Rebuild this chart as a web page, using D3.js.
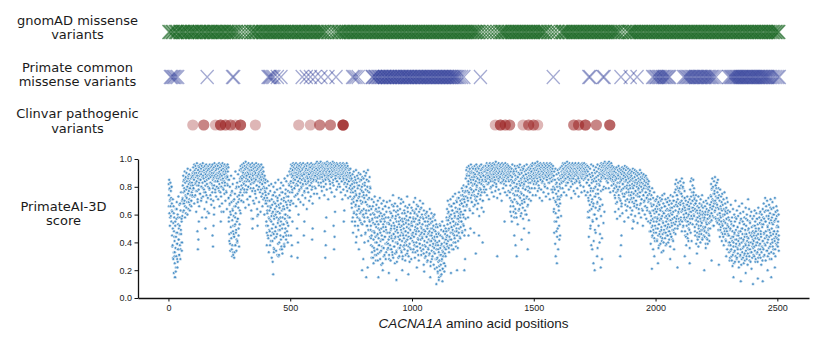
<!DOCTYPE html>
<html>
<head>
<meta charset="utf-8">
<script src="https://cdn.jsdelivr.net/npm/d3@7"></script>
<style>
  body { margin: 0; background: #fff; }
  svg { display: block; }
</style>
</head>
<body>
<svg id="chart" width="830" height="342"></svg>
<script>
// ---- data ----
const trackLabels = [
  ["gnomAD missense", "variants"],
  ["Primate common", "missense variants"],
  ["Clinvar pathogenic", "variants"]
];
const scoreLabel = ["PrimateAI-3D", "score"];
const geneName = "CACNA1A";
const xTitleRest = " amino acid positions";
const xTicks = [0, 500, 1000, 1500, 2000, 2500];
const yTicks = [0, 0.2, 0.4, 0.6, 0.8, 1.0];

// residue positions carrying gnomAD missense variants
const gnomadPositions = [
  2,7,15,19,28,33,37,46,51,58,62,69,77,80,88,94,99,106,110,117,125,128,136,141,146,154,159,165,172,175,183,189,194,201,207,212,219,224,229,237,243,247,255,260,266,273,279,
  288,301,314,327,
  339,343,351,356,360,368,374,379,386,391,397,404,409,415,420,427,432,438,445,449,456,461,467,474,478,485,490,496,503,508,515,519,526,533,537,544,549,555,562,566,573,579,584,591,596,602,609,613,620,626,631,638,643,
  655,668,681,
  691,698,702,710,716,721,728,733,739,746,750,757,763,768,775,779,786,792,797,804,809,815,822,826,833,839,844,851,855,862,868,873,880,884,891,897,902,909,913,920,926,931,938,942,949,955,960,967,971,978,984,989,996,1000,1007,1013,1018,1025,1029,1036,1042,1047,1054,1058,1065,1071,1076,1083,1087,1094,1100,1105,1112,1116,1123,1129,1134,1141,1145,1152,1158,1163,1170,1174,1181,1187,1192,1199,1203,1210,1216,1221,1228,1232,1239,1245,1250,1257,1261,1268,1274,
  1285,1298,1311,1324,1337,1350,
  1362,1368,1373,1380,1384,1391,1397,1402,1409,1413,1420,1426,1431,1438,1442,1449,1455,1460,1467,1471,1478,1484,1489,1496,1500,1507,1513,1518,1525,1529,1536,1542,1547,
  1559,1571,1584,1597,
  1612,1618,1623,1630,1634,1641,1647,1652,1659,1663,1670,1676,1681,1688,1692,1699,1705,1710,1717,1721,1728,1734,1739,1746,1750,1757,1763,1768,1775,1779,1786,1792,1797,1804,1808,1815,1821,1826,1833,1837,1844,1850,
  1862,1875,
  1888,1893,1899,1904,1911,1915,1922,1928,1933,1940,1944,1951,1957,1962,1969,1973,1980,1986,1991,1998,2002,2009,2015,2020,2027,2031,2038,2044,2049,2056,2060,2067,2073,2078,2085,2089,2096,2102,2107,2114,2118,2125,2131,2136,2143,2147,2154,2160,2165,2172,2176,2183,2189,2194,2201,2205,2212,2218,2223,2230,2234,2241,2247,2252,2259,2263,2270,2276,2281,2288,2292,2299,2305,2310,2317,2321,2328,2334,2339,2346,2350,2357,2363,2368,2375,2379,2386,2392,2397,2404,2408,2415,2421,2426,2433,2437,2444,2450,2455,2462,2466,2473,2479,2484,2491,2495,2502,2506
];

// residue positions carrying common primate missense variants
const primatePositions = [
  8,13,19,24,31,38,
  159,
  263,268,
  409,414,419,426,433,447,462,
  549,566,583,602,626,655,688,
  756,762,770,779,
  836,839,845,850,852,858,863,866,872,875,880,886,888,893,899,901,906,911,914,920,924,927,933,936,941,946,949,955,958,962,968,971,976,980,983,989,993,996,1002,1005,1010,1015,1018,1023,1028,1031,1036,1040,1044,1049,1054,1057,1062,1067,1070,1075,1080,1083,1088,1093,1096,1101,1106,1109,1114,1119,1122,1127,1132,1135,1140,1145,1148,1153,1158,1161,1166,1171,1174,1179,1184,1189,1196,1204,1213,
  1281,
  1580,
  1726,1731,1784,1789,
  1858,1896,1924,
  1988,1994,2001,2005,2011,2016,2021,2027,2031,2036,2042,2047,2053,2058,
  2115,2121,2126,2132,2137,2142,2148,2153,2158,2164,2169,2174,2180,2185,2190,2196,2201,2206,2212,2217,2222,2228,2233,2240,2248,
  2300,2306,2311,2315,2320,2324,2329,2333,2337,2342,2346,2351,2355,2359,2364,2368,2373,2377,2381,2386,2390,2395,2399,2403,2408,2412,2417,2421,2425,2430,2434,2439,2443,2447,2452,2456,2461,2466,2472,2479,2486,2494,2502,2508
];

// ClinVar pathogenic positions (repeated entries = several variants at one residue)
const clinvarPositions = [
  100, 145,145, 193, 214,214,214, 234,234, 255,255, 275, 296,296,296, 357,
  535, 583, 621,621, 665,665, 717,717,717,717,717,
  1342, 1363,1363,1363, 1383,1383, 1401,1401, 1456, 1479,1479, 1499,1499, 1516,
  1664,1664, 1684,1684, 1712,1712,1712, 1757,1757, 1812,1812,1812
];

// PrimateAI-3D score x100, one value per residue; row k covers residues 100k+1 .. 100k+100
const scoreRows = [
  "82 74 85 61 79 70 58 83 66 77 72 55 80 68 45 62 38 71 29 54 66 33 48 58 41 25 15 52 36 64 44 30 57 69 39 47 22 60 35 53 73 42 50 31 67 46 38 58 28 63 49 76 40 55 34 70 59 72 81 68 88 76 63 85 79 70 91 66 83 74 87 61 78 90 72 84 69 80 93 75 86 64 82 77 89 71 84 67 79 92 74 86 81 70 88 76 83 73 90 78",
  "88 94 79 91 85 96 73 89 92 82 95 87 77 93 90 84 97 81 88 69 92 86 95 78 90 83 94 88 75 91 96 85 80 93 89 72 95 87 91 83 97 79 88 94 86 92 76 90 95 84 89 81 93 87 96 74 91 85 94 88 62 92 80 95 89 86 93 78 90 96 83 91 87 94 71 89 95 82 92 88 96 85 79 93 90 86 94 81 97 88 91 76 95 84 92 89 87 93 80 96",
  "90 84 95 88 79 93 86 97 82 91 87 94 76 89 96 85 92 80 95 88 83 97 90 86 93 78 91 95 84 89 96 81 92 87 94 90 77 95 86 93 88 82 96 91 85 94 72 58 85 46 67 80 39 62 74 51 88 43 69 35 77 56 64 82 48 31 70 59 86 44 66 38 75 53 91 61 47 79 34 68 55 83 41 73 57 89 65 50 80 37 71 92 63 84 76 95 87 70 93 81",
  "91 85 96 88 79 94 90 83 97 87 92 76 95 89 84 93 98 81 90 86 94 88 78 96 91 85 93 80 97 89 92 84 95 87 73 91 96 82 89 94 86 57 92 97 83 90 88 95 79 93 86 91 96 84 89 77 94 90 85 97 88 92 81 95 59 87 93 90 84 96 89 80 94 91 86 95 83 88 92 78 96 85 90 93 82 89 75 94 87 91 84 80 86 72 88 79 83 76 85 70",
  "68 55 79 47 72 61 84 52 66 43 75 58 81 49 63 70 38 77 56 65 45 82 59 71 50 67 41 74 62 53 80 46 69 57 35 76 64 48 83 60 51 73 44 66 58 78 31 70 54 62 85 49 67 57 40 74 61 52 79 45 68 55 83 37 71 63 50 76 58 44 81 66 53 72 39 64 86 57 47 75 60 69 42 84 55 73 48 65 88 59 77 52 70 45 82 63 91 58 76 67",
  "89 93 84 96 80 91 87 95 78 92 88 97 83 90 94 86 79 96 91 85 93 88 74 97 90 82 95 87 92 89 81 96 84 93 90 77 95 88 92 86 97 83 91 94 79 89 96 85 92 88 93 81 97 90 86 94 89 76 95 92 84 91 96 87 82 93 90 95 88 79 97 86 92 90 84 95 89 93 81 96 87 91 94 85 90 97 83 92 88 95 80 93 89 96 86 91 85 94 90 87",
  "92 96 88 94 90 97 85 93 91 98 87 95 89 92 96 83 94 90 97 88 93 86 95 91 98 89 94 80 96 92 87 95 90 93 97 84 91 96 89 94 92 88 97 93 85 95 90 96 91 87 94 98 89 92 95 86 93 97 90 88 96 91 94 82 97 89 93 95 87 92 96 90 94 88 98 91 85 95 93 89 97 92 90 94 86 96 91 95 88 93 97 84 92 90 96 89 94 87 93 91",
  "95 89 93 86 97 91 88 94 90 96 84 92 95 89 93 87 97 90 85 94 91 88 96 92 83 95 89 93 90 86 94 97 88 91 82 95 90 87 93 89 84 92 88 79 90 86 93 81 88 85 78 86 65 82 71 89 58 76 84 69 91 62 80 73 87 55 77 85 67 92 74 60 83 70 88 63 79 52 86 72 90 66 81 57 75 84 61 89 70 78 54 85 68 80 63 87 73 59 82 76",
  "86 64 91 72 55 83 69 88 47 78 61 90 74 52 85 67 80 58 92 71 49 84 63 76 56 87 66 44 79 60 52 38 64 45 71 33 57 48 66 29 54 42 69 36 60 47 73 31 58 44 63 27 51 67 40 55 35 62 46 70 32 53 43 65 38 59 49 72 28 56 41 61 34 50 68 45 37 57 25 64 42 53 70 36 48 60 31 55 44 66 39 51 58 33 62 47 69 40 54 35",
  "47 36 58 42 65 31 53 44 70 38 56 27 49 61 35 52 45 67 33 59 41 74 29 54 46 63 37 50 43 68 32 57 48 40 62 34 55 26 51 66 39 47 60 44 36 72 53 30 58 42 64 45 38 56 49 71 33 52 41 61 28 55 46 69 37 50 43 63 35 57 48 40 66 31 54 45 59 38 51 73 42 34 62 47 56 30 53 44 67 39 58 36 49 61 43 52 28 65 46 55",
  "52 41 63 47 58 35 69 44 55 38 61 49 72 33 57 46 64 40 53 67 37 50 59 43 66 31 56 48 62 39 54 45 70 36 58 42 51 65 34 47 60 44 53 38 68 49 57 32 63 46 41 55 29 48 60 37 52 44 58 33 62 40 50 27 55 46 35 59 42 31 53 48 64 38 45 57 26 50 41 61 34 47 55 30 43 58 39 52 24 49 36 60 44 32 56 41 28 51 38 46",
  "35 22 44 29 51 18 38 26 47 33 15 41 27 53 20 36 45 24 31 49 17 39 28 55 34 21 43 30 48 25 37 52 19 40 32 46 23 50 35 42 48 58 39 64 45 53 70 41 56 62 36 50 67 44 59 38 54 71 47 60 42 66 51 57 35 63 49 73 46 55 40 68 52 61 43 58 75 48 65 54 37 62 50 69 45 57 72 53 41 64 59 47 76 55 61 44 67 58 70 51",
  "62 74 55 68 79 48 71 60 77 53 66 81 58 73 45 69 76 63 80 57 86 73 92 80 67 89 94 77 84 70 91 82 95 75 88 64 93 79 86 90 72 96 83 78 91 69 87 94 81 76 93 85 66 90 88 74 95 82 89 71 92 84 78 96 87 80 73 91 86 94 68 89 83 93 77 90 85 95 79 88 92 74 87 96 82 90 76 93 85 89 70 94 81 88 91 78 95 84 92 86",
  "91 87 95 84 93 89 97 82 90 94 86 92 96 88 83 95 90 93 87 97 85 91 94 89 80 96 92 88 95 86 93 90 97 84 91 89 94 87 96 92 85 93 90 98 88 82 95 91 87 94 89 96 93 86 90 97 84 92 88 95 91 87 93 96 89 83 94 90 92 97 86 91 95 88 93 85 96 90 89 94 87 92 97 91 84 95 88 93 90 86 94 96 89 92 87 95 91 85 93 90",
  "88 72 94 81 66 91 85 59 93 78 87 96 69 84 90 75 62 92 83 89 71 95 80 64 88 93 77 86 58 91 82 74 95 68 87 90 79 63 94 84 73 89 96 67 81 92 76 85 61 90 83 70 94 87 65 79 93 88 74 82 95 69 86 91 78 60 89 84 92 72 96 80 87 66 93 85 77 90 83 94 71 88 92 79 86 95 90 93 88 96 91 87 95 84 97 89 93 86 92 90",
  "93 88 96 84 91 97 87 94 90 82 95 89 92 86 98 90 84 93 96 88 91 79 95 89 93 87 97 85 92 90 94 88 96 83 91 95 89 87 93 90 97 86 92 94 81 96 89 91 88 95 93 85 90 97 87 92 94 89 96 83 91 88 95 90 86 93 97 89 92 84 94 90 96 87 91 78 93 88 95 85 72 88 64 91 79 55 85 70 93 61 82 75 48 89 67 80 58 92 73 86",
  "77 90 63 85 71 93 82 68 88 79 94 86 74 91 83 95 89 92 87 97 84 93 90 96 88 91 85 94 97 89 92 86 95 90 83 93 98 88 91 94 87 96 90 85 93 89 97 92 86 95 91 88 94 96 84 90 93 87 97 89 92 95 86 91 94 88 96 90 83 93 97 89 92 85 95 91 88 94 90 96 87 93 86 97 91 89 95 84 92 94 90 96 88 93 87 91 95 89 97 92",
  "94 88 96 91 85 93 97 89 92 86 95 90 87 94 96 89 83 92 95 88 76 91 62 85 70 94 58 81 89 67 93 74 52 87 79 96 64 83 90 71 56 88 77 95 68 84 60 92 73 86 49 90 80 65 94 75 87 57 91 82 69 96 78 88 63 93 85 72 90 81 95 66 89 84 92 77 97 86 91 94 89 96 92 88 95 90 97 93 87 94 91 98 89 95 92 86 93 97 90 94",
  "96 91 88 97 93 86 95 90 98 92 87 94 89 96 91 85 93 97 88 92 90 95 84 91 87 93 89 82 94 88 79 91 85 72 93 87 81 90 76 94 86 69 89 83 92 78 88 95 74 86 91 80 93 71 87 84 90 77 92 85 68 89 94 82 75 91 86 79 93 88 73 90 84 95 80 87 70 92 85 89 76 94 81 88 66 90 83 93 78 86 91 74 89 84 92 79 87 71 90 85",
  "88 76 91 82 69 86 93 79 84 72 90 81 66 87 92 77 83 70 89 85 74 91 80 67 88 83 75 90 78 86 64 84 89 73 81 92 76 85 68 87 80 90 71 83 77 86 63 88 82 74 89 79 85 70 84 87 66 81 76 88 72 83 79 86 65 80 85 74 82 69 78 84 71 80 75 62 77 54 71 48 68 59 74 51 66 79 45 63 57 72 49 67 55 76 43 61 70 52 64 58",
  "62 47 71 55 66 42 58 73 50 64 45 69 53 60 38 67 56 72 48 63 44 70 57 51 65 41 59 74 46 62 54 68 40 61 49 75 52 66 43 58 71 47 63 55 39 69 50 64 57 45 72 53 60 48 67 42 59 70 51 63 46 74 56 61 44 68 52 65 49 57 73 41 62 54 70 47 66 58 76 50 82 63 78 55 85 69 74 59 80 66 71 52 83 61 77 57 68 64 79 53",
  "84 67 75 58 81 62 70 86 55 73 64 79 51 68 83 60 72 57 77 65 48 63 56 70 44 61 67 52 58 73 46 64 55 69 41 60 53 66 49 71 62 78 54 84 68 73 59 86 65 76 57 81 70 63 85 74 60 79 67 72 51 64 45 68 56 62 39 70 53 58 47 66 42 61 55 73 50 65 44 59 68 48 63 57 71 52 60 46 67 54 74 43 62 58 65 49 69 56 61 50",
  "58 44 66 51 62 39 70 55 47 64 53 68 42 60 57 49 72 46 63 54 41 67 59 50 65 74 61 82 69 56 78 64 86 71 59 80 66 75 52 84 68 77 62 87 70 58 81 73 65 79 55 83 67 76 60 85 72 57 79 64 74 53 70 61 78 49 66 58 73 55 69 47 63 75 52 67 59 44 71 56 64 50 76 60 46 68 54 62 41 65 57 72 48 61 53 69 45 63 58 51",
  "45 33 56 40 62 29 50 38 67 43 35 53 27 58 41 48 31 64 44 37 52 25 60 46 34 55 42 70 30 49 39 57 28 63 45 36 51 32 59 41 47 26 66 38 54 43 30 61 48 35 57 24 50 40 68 33 46 55 29 62 42 37 53 31 58 44 27 49 39 65 34 52 46 28 60 41 36 56 32 71 43 50 38 64 30 47 55 35 59 26 45 40 62 33 51 44 29 57 39 48",
  "36 52 41 59 30 47 63 34 55 43 28 50 38 61 45 32 57 40 26 53 46 65 35 49 42 58 31 54 39 62 29 48 44 56 33 60 37 51 27 64 41 53 35 68 46 57 31 62 43 72 38 55 48 66 34 59 45 70 40 52 30 63 49 57 36 67 44 54 28 61 47 71 39 56 33 64 50 58 42 69 37 53 46 65 32 60 48 55 41 72 35 62 44 57 39 66 51 59 43 63",
  "48 37 55 42 60 45"
];

// second substitution scored at every other residue; row k covers residues 100k+2, +4, .. +100
const altScoreRows = [
  "66 78 52 71 59 80 63 37 50 28 61 44 33 55 19 47 64 39 26 58 42 31 52 68 35 46 57 40 71 62 84 68 77 58 86 73 65 80 60 75 88 69 79 63 83 70 66 87 74 81",
  "79 86 68 90 74 83 62 88 77 71 92 81 66 85 75 89 70 80 58 87 73 91 78 64 84 76 89 69 82 93 72 86 61 79 88 74 83 67 90 76 81 70 87 65 84 78 92 73 80 86",
  "84 71 90 77 66 88 80 73 92 68 85 79 62 89 75 83 70 91 76 64 87 81 72 55 41 68 34 60 47 76 38 63 52 44 71 33 58 66 49 80 40 57 69 45 74 53 86 61 78 70",
  "86 74 91 69 82 78 93 65 88 76 84 71 90 80 67 87 73 92 79 63 85 77 89 70 83 68 91 75 86 72 81 64 88 78 90 69 84 76 62 87 73 82 66 79 71 85 60 77 68 74",
  "52 38 63 45 70 33 57 48 66 41 55 29 61 47 74 36 59 43 68 51 34 62 46 72 39 56 31 65 49 58 42 76 35 53 64 44 70 37 60 50 78 45 67 54 40 73 58 81 63 69",
  "83 70 89 76 92 68 85 79 73 90 81 66 87 94 75 84 71 91 78 86 69 88 80 93 74 82 67 90 77 85 72 92 79 64 87 83 76 89 70 94 81 73 86 78 91 68 84 88 75 80",
  "88 79 93 84 75 90 86 95 81 72 91 87 83 94 77 89 85 92 80 74 96 86 82 90 78 93 88 71 85 91 84 79 94 87 76 92 83 89 81 95 73 88 86 90 78 84 93 80 87 82",
  "87 80 92 76 89 84 71 91 78 86 82 93 74 88 80 85 77 90 72 84 79 87 73 81 76 68 55 79 47 72 61 83 52 66 75 44 70 58 81 49 64 73 56 85 62 45 77 53 69 60",
  "74 58 81 46 69 63 85 52 77 41 66 72 55 80 49 43 29 56 37 61 25 48 34 53 40 64 31 45 58 27 50 38 62 33 47 55 24 42 59 36 51 30 57 44 66 28 49 39 54 35",
  "39 54 28 47 62 35 50 43 58 31 46 66 37 52 25 44 59 33 49 40 63 29 55 42 36 51 68 34 47 57 30 45 53 38 61 27 48 41 56 32 65 44 37 50 26 58 43 35 54 46",
  "45 33 57 40 62 29 51 37 48 60 34 53 42 27 56 39 64 46 31 50 43 58 35 24 49 38 55 30 61 44 26 52 36 47 57 32 41 23 54 45 28 50 37 59 33 42 21 48 39 53",
  "28 40 19 35 46 23 31 52 16 38 27 44 21 33 48 25 36 42 30 39 44 56 37 61 49 33 58 42 66 51 38 63 47 55 35 68 45 59 40 53 70 48 62 36 57 72 50 64 43 60",
  "55 68 47 74 60 52 71 63 49 77 80 66 88 72 58 84 76 91 63 79 85 69 74 90 61 82 77 87 67 73 93 70 81 64 86 75 89 59 83 71 78 92 65 84 70 88 62 80 76 85",
  "85 78 92 74 88 82 95 71 86 90 79 84 93 76 89 81 87 73 91 83 77 94 80 88 72 85 90 78 86 95 75 83 89 70 92 84 79 87 82 93 76 88 81 90 74 86 91 77 84 89",
  "76 62 88 70 55 83 79 66 91 58 74 85 61 80 69 87 53 77 90 64 82 72 59 86 75 68 92 57 81 71 84 63 78 89 60 73 86 67 80 56 88 76 83 70 91 79 85 74 89 82",
  "86 79 92 74 88 83 95 77 90 81 87 72 93 85 78 91 70 84 89 76 94 82 80 87 73 90 85 79 92 75 88 83 71 86 91 78 84 89 76 80 62 47 78 39 69 55 83 44 71 58",
  "66 52 80 45 73 59 84 88 79 93 84 76 90 86 95 81 74 91 87 83 94 78 89 85 92 80 72 96 86 82 90 77 93 88 75 85 91 84 79 94 87 73 92 83 89 81 90 76 86 92",
  "89 80 93 77 86 91 74 88 83 95 58 72 44 81 63 50 77 38 69 85 55 66 41 79 60 73 47 84 57 68 36 75 52 82 64 46 71 59 87 43 67 78 54 80 62 86 93 79 90 84",
  "90 83 95 79 88 92 76 86 94 81 89 85 77 91 84 74 62 85 68 80 57 77 89 64 72 83 59 70 86 66 78 61 82 73 88 55 75 67 84 63 79 71 87 58 76 69 81 65 74 60",
  "72 63 80 56 75 68 84 59 77 70 65 82 54 73 79 61 76 67 83 58 71 64 78 52 74 69 81 60 66 76 57 72 63 79 55 70 62 48 61 39 56 67 44 52 35 63 47 58 41 70",
  "50 62 41 57 68 36 53 46 64 39 58 49 71 43 55 34 61 47 66 52 38 59 45 69 51 40 63 48 56 37 65 44 54 60 42 70 49 35 58 53 46 67 57 74 50 79 62 68 55 76",
  "69 56 75 48 63 80 52 66 58 72 45 61 38 55 67 43 59 50 64 36 57 47 62 41 70 53 65 76 59 71 48 68 74 56 63 44 58 37 52 46 61 40 55 49 66 42 60 51 45 57",
  "48 60 36 54 43 57 39 62 50 45 58 67 55 73 61 79 66 52 70 58 75 63 81 57 68 72 54 65 49 61 56 44 59 51 64 41 53 46 60 38 55 48 63 42 50 57 35 52 46 40",
  "38 27 49 34 55 30 44 23 52 40 33 47 26 58 37 42 29 51 35 45 22 48 39 31 56 43 28 50 36 41 25 53 32 46 38 57 30 44 24 49 35 40 27 54 33 45 21 47 37 42",
  "31 45 37 52 26 48 40 57 33 43 29 50 38 61 35 46 24 53 41 36 58 30 47 39 55 27 63 44 34 51 42 59 32 49 37 65 45 28 54 40 60 35 48 43 56 30 62 46 38 52",
  "40 51 34"
];

// additional low-scoring variants at individual residues [position, score]
const extraScores = [
  [22,.18],[25,.30],[27,.15],[31,.22],[36,.28],[40,.35],
  [119,.48],[121,.35],[123,.42],[125,.55],[152,.50],[155,.58],
  [181,.45],[183,.37],[185,.52],[187,.60],[215,.55],[218,.62],
  [262,.30],[266,.33],[268,.46],[270,.29],[272,.52],[275,.38],[280,.42],
  [345,.50],[347,.57],[366,.52],[368,.60],
  [428,.26],[430,.17],[433,.33],[452,.30],[460,.35],[468,.32],[475,.38],
  [503,.45],[505,.30],[507,.38],[509,.55],[528,.50],[530,.29],[532,.40],[534,.60],
  [556,.45],[558,.55],[590,.42],[592,.50],
  [642,.48],[644,.29],[646,.38],[648,.58],[678,.52],[680,.35],[682,.44],[684,.62],
  [720,.55],[722,.63],
  [770,.40],[782,.35],[795,.20],[800,.28],[805,.40],[812,.15],[818,.22],
  [862,.15],[880,.20],[905,.18],[936,.13],[960,.20],[985,.17],
  [1020,.22],[1050,.19],[1075,.15],[1100,.10],[1110,.13],[1125,.12],[1160,.18],[1185,.20],[1215,.20],[1218,.28],
  [1232,.45],[1240,.50],[1255,.47],[1262,.32],[1275,.45],[1290,.40],
  [1350,.30],[1380,.55],
  [1420,.45],[1425,.38],[1430,.30],[1450,.42],[1460,.50],[1475,.35],[1480,.47],
  [1590,.30],[1595,.25],[1598,.50],[1600,.35],[1605,.42],
  [1740,.35],[1745,.25],[1750,.20],[1760,.30],[1770,.40],[1775,.22],[1780,.28],
  [1855,.30],[1858,.38],[1860,.45],[1905,.50],[1910,.55],
  [1985,.21],[1995,.30],[2010,.25],[2025,.33],
  [2060,.28],[2090,.22],[2120,.30],[2140,.25],[2170,.32],[2200,.20],[2230,.27],[2260,.24],[2290,.30],
  [2320,.15],[2350,.12],[2370,.18],[2400,.10],[2420,.14],[2440,.12],[2460,.20],[2475,.15],[2490,.22]
];

// ---- build score points ----
const scorePoints = [];
scoreRows.forEach((row, k) => {
  row.trim().split(/\s+/).forEach((v, j) => {
    scorePoints.push({ pos: k * 100 + j + 1, score: +v / 100 });
  });
});
altScoreRows.forEach((row, k) => {
  row.trim().split(/\s+/).forEach((v, j) => {
    scorePoints.push({ pos: k * 100 + 2 * j + 2, score: +v / 100 });
  });
});
extraScores.forEach(([pos, s]) => scorePoints.push({ pos, score: s }));
scorePoints.sort((a, b) => a.pos - b.pos);

// ---- layout ----
const svg = d3.select("#chart");
const x = d3.scaleLinear().domain([-125, 2630]).range([138, 809]);
const y = d3.scaleLinear().domain([0, 1]).range([298, 159]);
const trackY = [32, 77, 125];
const labelX = 77.5;

// track labels
const labelFont = "'DejaVu Sans', sans-serif";
const labelBase = [[24.5, 39], [71.5, 86], [118, 132.5]];
trackLabels.forEach((lines, i) => {
  const t = svg.append("text")
    .attr("text-anchor", "middle")
    .attr("font-family", labelFont)
    .attr("font-size", 13)
    .attr("fill", "#1a1a1a");
  lines.forEach((ln, j) => {
    t.append("tspan").attr("x", labelX).attr("y", labelBase[i][j]).text(ln);
  });
});
{
  const t = svg.append("text")
    .attr("text-anchor", "middle")
    .attr("font-family", labelFont)
    .attr("font-size", 13)
    .attr("fill", "#1a1a1a");
  [210.5, 224.5].forEach((yy, j) => {
    t.append("tspan").attr("x", 63.5).attr("y", yy).text(scoreLabel[j]);
  });
}

// X-shaped markers
const xMark = "M-6.5,-7L6.5,7M-6.5,7L6.5,-7";

svg.append("g")
  .selectAll("path")
  .data(gnomadPositions)
  .join("path")
  .attr("transform", d => `translate(${x(d)},${trackY[0]})`)
  .attr("d", xMark)
  .attr("fill", "none")
  .attr("stroke", "#156420")
  .attr("stroke-width", 1.35)
  .attr("stroke-opacity", 0.6);

svg.append("g")
  .selectAll("path")
  .data(primatePositions)
  .join("path")
  .attr("transform", d => `translate(${x(d)},${trackY[1]})`)
  .attr("d", xMark)
  .attr("fill", "none")
  .attr("stroke", "#263593")
  .attr("stroke-width", 1.25)
  .attr("stroke-opacity", 0.42);

svg.append("g")
  .selectAll("circle")
  .data(clinvarPositions)
  .join("circle")
  .attr("cx", d => x(d))
  .attr("cy", trackY[2])
  .attr("r", 5.6)
  .attr("fill", "#9a2020")
  .attr("fill-opacity", 0.33);

// score scatter
svg.append("g")
  .selectAll("circle")
  .data(scorePoints)
  .join("circle")
  .attr("cx", d => x(d.pos))
  .attr("cy", d => y(d.score))
  .attr("r", 1.5)
  .attr("fill", "#3a86c2")
  .attr("stroke", "#ffffff")
  .attr("stroke-width", 0.6)
  .attr("fill-opacity", 0.85);

// axes
const tickFont = "'Liberation Sans', Arial, sans-serif";
const xAxis = svg.append("g")
  .attr("transform", "translate(0,298)")
  .call(d3.axisBottom(x).tickValues(xTicks).tickFormat(d3.format("d")).tickSize(3.5).tickSizeOuter(0).tickPadding(3));
const yAxis = svg.append("g")
  .attr("transform", "translate(138,0)")
  .call(d3.axisLeft(y).tickValues(yTicks).tickFormat(d3.format(".1f")).tickSize(3.5).tickSizeOuter(0).tickPadding(2.5));
[xAxis, yAxis].forEach(g => {
  g.selectAll("path.domain").attr("stroke", "#111").attr("stroke-width", 1.3);
  g.selectAll(".tick line").attr("stroke", "#111").attr("stroke-width", 1);
  g.selectAll(".tick text").attr("font-family", tickFont).attr("font-size", 9).attr("fill", "#222");
});

// x title
const xt = svg.append("text")
  .attr("x", 473.5)
  .attr("y", 328)
  .attr("text-anchor", "middle")
  .attr("font-family", tickFont)
  .attr("font-size", 13.5)
  .attr("fill", "#1a1a1a");
xt.append("tspan").attr("font-style", "italic").text(geneName);
xt.append("tspan").text(xTitleRest);
</script>
</body>
</html>
